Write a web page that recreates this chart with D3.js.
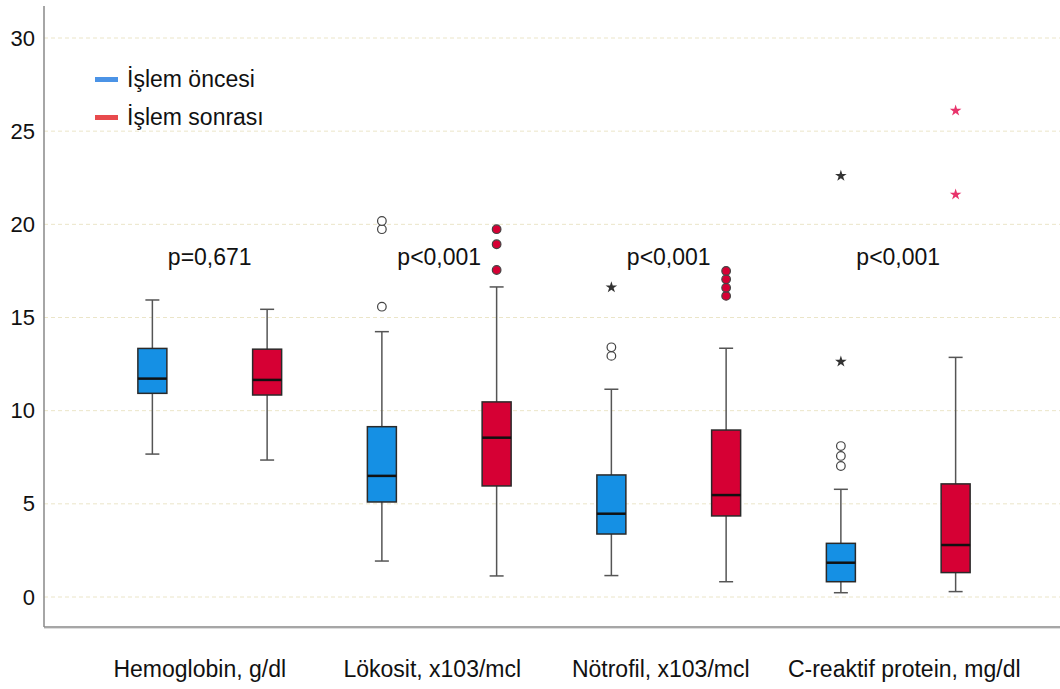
<!DOCTYPE html>
<html>
<head>
<meta charset="utf-8">
<script src="https://cdn.jsdelivr.net/npm/d3@7"></script>
<style>
  body { margin: 0; background: #fff; }
  text { font-family: "Liberation Sans", Arial, sans-serif; fill: #111; }
</style>
</head>
<body>
<div id="chart"></div>
<script>
const categories = ["Hemoglobin, g/dl", "Lökosit, x103/mcl", "Nötrofil, x103/mcl", "C-reaktif protein, mg/dl"];
const groups = ["İşlem öncesi", "İşlem sonrası"];
const pLabels = ["p=0,671", "p<0,001", "p<0,001", "p<0,001"];
const yTicks = [0, 5, 10, 15, 20, 25, 30];

// [min whisker, Q1, median, Q3, max whisker]
const beforeStats = [
  [7.67, 10.93, 11.72, 13.34, 15.94],
  [1.93, 5.10, 6.50, 9.14, 14.24],
  [1.15, 3.38, 4.47, 6.55, 11.15],
  [0.23, 0.82, 1.84, 2.88, 5.78]
];
const afterStats = [
  [7.35, 10.84, 11.65, 13.30, 15.44],
  [1.13, 5.96, 8.55, 10.47, 16.64],
  [0.82, 4.35, 5.47, 8.96, 13.35],
  [0.29, 1.31, 2.79, 6.07, 12.86]
];
// outliers (circles) and extremes (stars)
const beforeOutliers = [[], [15.58, 19.74, 20.18], [12.94, 13.40], [7.03, 7.57, 8.10]];
const afterOutliers = [[], [17.55, 18.93, 19.74], [16.16, 16.60, 17.05, 17.50], []];
const beforeExtremes = [[], [], [16.62], [12.63, 22.60]];
const afterExtremes = [[], [], [], [21.60, 26.10]];

const W = 1060, H = 689;
const svg = d3.select("#chart").append("svg")
  .attr("width", W)
  .attr("height", H);

const plotLeft = 44, plotRight = 1060, plotTop = 6, plotBottom = 627;

const x = d3.scaleBand()
  .domain(categories)
  .range([95, 1013]);

const sub = d3.scalePoint()
  .domain(groups)
  .range([0, x.bandwidth()])
  .padding(0.5);

const y = d3.scaleLinear()
  .domain([0, 30])
  .range([597, 38]);

const boxColors = ["#1590e4", "#d60034"];
const legendColors = ["#4b93e6", "#e84a4d"];
const starColors = ["#333333", "#e8336b"];

// grid
svg.append("g")
  .selectAll("line")
  .data(yTicks)
  .enter()
  .append("line")
  .attr("x1", plotLeft)
  .attr("x2", plotRight)
  .attr("y1", d => y(d))
  .attr("y2", d => y(d))
  .attr("stroke", "#ebe5c8")
  .attr("stroke-dasharray", "4,3");

// y axis
const yAxis = svg.append("g")
  .attr("transform", `translate(${plotLeft},0)`)
  .call(d3.axisLeft(y).tickValues(yTicks).tickSize(0).tickPadding(9));
yAxis.select(".domain").remove();
yAxis.selectAll("text")
  .style("font-size", "22px")
  .style("font-family", "'Liberation Sans', Arial, sans-serif")
  .attr("fill", "#111");

svg.append("line")
  .attr("x1", plotLeft).attr("x2", plotLeft)
  .attr("y1", plotTop).attr("y2", plotBottom)
  .attr("stroke", "#888").attr("stroke-width", 1.5);
svg.append("line")
  .attr("x1", plotLeft).attr("x2", plotRight)
  .attr("y1", plotBottom).attr("y2", plotBottom)
  .attr("stroke", "#888").attr("stroke-width", 1.5);
svg.append("line")
  .attr("x1", plotLeft).attr("x2", plotRight)
  .attr("y1", plotBottom + 1.5).attr("y2", plotBottom + 1.5)
  .attr("stroke", "#ddd").attr("stroke-width", 1);

// category labels
const labelShift = [-10, -7, -8, 6];
svg.append("g")
  .selectAll("text")
  .data(categories)
  .enter()
  .append("text")
  .attr("x", (d, i) => x(d) + x.bandwidth() / 2 + labelShift[i])
  .attr("y", 677)
  .attr("text-anchor", "middle")
  .style("font-size", "23px")
  .text(d => d);

// p labels
svg.append("g")
  .selectAll("text")
  .data(pLabels)
  .enter()
  .append("text")
  .attr("x", (d, i) => x(categories[i]) + x.bandwidth() / 2)
  .attr("y", 265)
  .attr("text-anchor", "middle")
  .style("font-size", "23px")
  .text(d => d);

// boxes
const boxW = 29, capW = 14;
const seriesStats = [beforeStats, afterStats];
const seriesOutliers = [beforeOutliers, afterOutliers];
const seriesExtremes = [beforeExtremes, afterExtremes];

groups.forEach((grp, gi) => {
  categories.forEach((cat, ci) => {
    const s = seriesStats[gi][ci];
    const cx = x(cat) + sub(grp);
    const g = svg.append("g");

    g.append("line")
      .attr("x1", cx).attr("x2", cx)
      .attr("y1", y(s[0])).attr("y2", y(s[4]))
      .attr("stroke", "#555").attr("stroke-width", 1.5);
    [s[0], s[4]].forEach(v => {
      g.append("line")
        .attr("x1", cx - capW / 2).attr("x2", cx + capW / 2)
        .attr("y1", y(v)).attr("y2", y(v))
        .attr("stroke", "#555").attr("stroke-width", 1.5);
    });
    g.append("rect")
      .attr("x", cx - boxW / 2)
      .attr("width", boxW)
      .attr("y", y(s[3]))
      .attr("height", y(s[1]) - y(s[3]))
      .attr("fill", boxColors[gi])
      .attr("stroke", "#2a2a2a")
      .attr("stroke-width", 1.5);
    g.append("line")
      .attr("x1", cx - boxW / 2).attr("x2", cx + boxW / 2)
      .attr("y1", y(s[2])).attr("y2", y(s[2]))
      .attr("stroke", "#111").attr("stroke-width", 2.5);

    g.selectAll("circle")
      .data(seriesOutliers[gi][ci])
      .enter()
      .append("circle")
      .attr("cx", cx)
      .attr("cy", d => y(d))
      .attr("r", 4.3)
      .attr("fill", gi === 0 ? "#fff" : boxColors[1])
      .attr("stroke", "#444")
      .attr("stroke-width", 1.2);

    g.selectAll("path.star")
      .data(seriesExtremes[gi][ci])
      .enter()
      .append("path")
      .attr("class", "star")
      .attr("d", d3.symbol().type(d3.symbolStar).size(42))
      .attr("transform", d => `translate(${cx},${y(d)})`)
      .attr("fill", starColors[gi]);
  });
});

// legend
const legend = svg.append("g");
groups.forEach((grp, i) => {
  legend.append("rect")
    .attr("x", 95).attr("y", 77 + i * 38)
    .attr("width", 23).attr("height", 5)
    .attr("fill", legendColors[i]);
  legend.append("text")
    .attr("x", 127).attr("y", 87 + i * 38)
    .style("font-size", "23px")
    .text(grp);
});
</script>
</body>
</html>
